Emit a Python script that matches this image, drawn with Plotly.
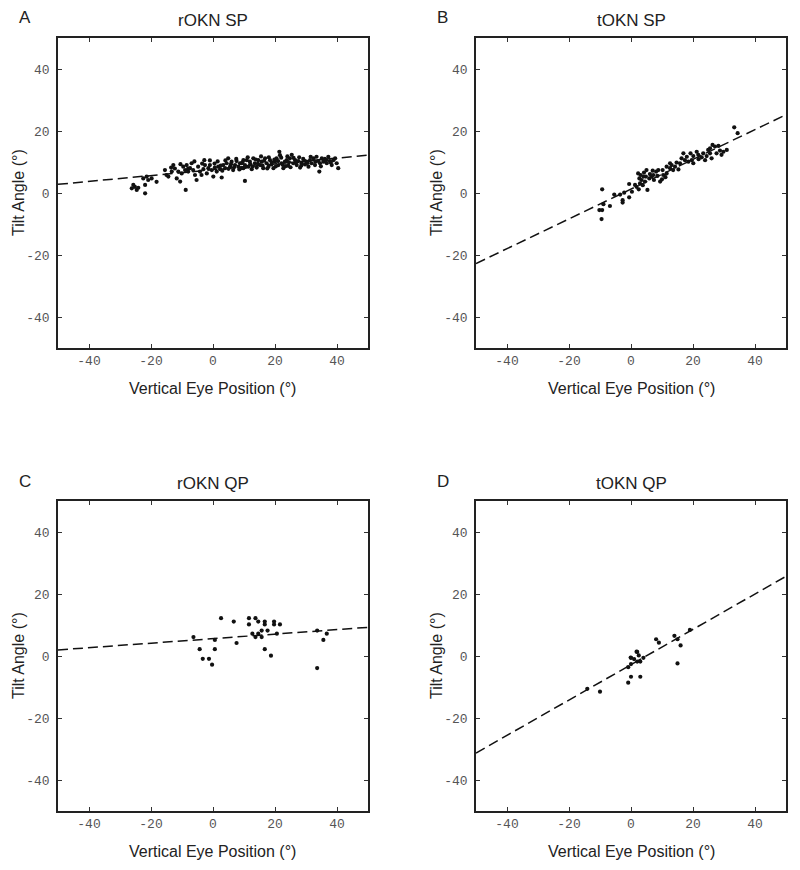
import numpy as np
import plotly.graph_objects as go

# ---------------- data ----------------
panel_letters = ["A", "B", "C", "D"]
panel_titles = ["rOKN SP", "tOKN SP", "rOKN QP", "tOKN QP"]
x_title = "Vertical Eye Position (°)"
y_title = "Tilt Angle (°)"
tick_vals = [-40, -20, 0, 20, 40]
tick_text = ["-40", "-20", "0", "20", "40"]

# regression lines: slope, intercept
fit_slope = [0.094, 0.48, 0.073, 0.57]
fit_intercept = [7.5, 1.25, 5.6, -2.8]

a_x = [-26.2, -25.2, -24.6, -24.1, -25.7, -21.9, -22.5, -21.4, -20.9, -19.8, -18.2, -21.9,
       -15.5, -15.0, -14.4, -13.3, -12.8, -12.3, -11.7, -11.2, -10.6, -10.1, -9.6, -9.0,
       -8.8, -8.5, -8.0, -7.4, -6.9, -6.4, -5.8, -5.3, -4.8, -4.2, -3.7, -3.1, -2.8, -2.6,
       -2.0, -1.5, -1.0, -0.4, 0.1, 0.6, 1.2, 1.7, 2.3, 2.8, 3.3, 3.9, 4.4, 4.9, 5.5, 6.0,
       6.5, 7.1, 7.6, 8.2, 8.7, 9.2, 9.8,
       9.25, 9.8, 10.3, 10.9, 11.4, 11.9, 12.5, 13.0, 13.5, 14.1, 14.6, 15.2, 15.7, 16.2,
       16.8, 17.3, 17.9, 18.4, 18.9, 19.5, 20.0, 20.5, 21.1, 21.4, 21.6, 22.1, 22.7, 23.2,
       23.8, 24.3, 24.8, 25.4, 25.9, 26.5, 27.0, 27.5, 28.1, 28.6, 29.1, 29.7, 30.2, 30.8,
       31.3, 31.8, 32.4, 32.9, 33.4, 34.0, 34.5, 34.3, 35.1, 35.6, 36.1, 36.7, 37.2, 37.7,
       38.3, 38.8, 39.4, 39.9, 40.4, 10.3,
       0.5, 1.5, 2.5, 3.0, 4.0, 5.0, 5.8, 6.8, 7.5, 8.5, 9.5, 10.5, 11.2, 12.0, 12.8, 13.8,
       14.5, 15.5, 16.0, 16.5, 17.5, 18.0, 19.0, 19.8, 20.3, 21.0, 22.0, 22.5, 23.5, 24.0,
       24.5, 25.0, 26.0, 26.8, 27.8, 28.5, 29.5, 30.5, 31.5, 33.0, 34.8, 36.5, 38.0,
       -6.0, -3.5, -1.0, -10.5, -13.5, -8.0]
a_y = [1.5, 2.0, 1.0, 1.7, 2.6, -0.1, 4.7, 5.3, 4.2, 4.7, 3.6, 2.6,
       7.4, 5.8, 5.3, 6.9, 9.0, 7.9, 4.7, 6.9, 3.7, 6.3, 8.5, 7.4,
       1.0, 9.0, 6.9, 8.0, 9.6, 7.4, 5.8, 4.2, 8.5, 6.9, 5.8, 7.7, 10.6, 9.0,
       6.3, 8.0, 9.0, 7.4, 5.3, 8.2, 6.9, 8.5, 7.7, 5.0, 9.0, 8.0, 9.6, 11.2, 8.5, 10.1,
       7.4, 9.0, 10.3, 8.5, 9.6, 8.0, 10.6,
       9.6, 8.0, 9.0, 10.6, 8.5, 10.1, 7.7, 11.2, 9.6, 8.2, 10.6, 9.0, 10.1, 8.0,
       11.2, 9.6, 8.5, 10.6, 9.2, 8.0, 10.1, 11.2, 9.0, 13.3, 12.2, 9.6, 8.0, 10.1,
       10.6, 8.8, 11.2, 12.3, 9.6, 10.6, 9.0, 10.3, 8.2, 9.6, 11.0, 9.2, 10.1, 8.5,
       10.6, 9.6, 11.2, 9.0, 11.7, 10.3, 9.6, 6.9, 11.2, 10.1, 11.0, 9.6, 11.7, 10.3,
       9.0, 10.6, 11.2, 9.6, 8.0, 3.9,
       9.5, 10.2, 8.8, 7.2, 10.5, 7.8, 9.3, 8.3, 11.0, 7.6, 9.8, 8.4, 11.5, 9.3, 8.6, 10.8,
       9.4, 11.8, 8.8, 10.4, 7.9, 11.5, 9.9, 10.8, 8.6, 10.3, 11.4, 9.1, 8.7, 11.8,
       9.9, 8.3, 11.3, 9.8, 11.5, 8.9, 10.4, 9.7, 11.7, 10.1, 8.6, 10.6, 9.8,
       10.2, 9.5, 10.5, 9.3, 8.2, 7.9]

b_x = [33.3, 34.4, -9.3, -9.5, -10.2, -9.3, -6.8, -8.9, -5.4, -3.5, -2.7, -2.7, -0.6, -0.6,
       0.3, -2.2, 2.5, 5.3,
       2.3, 3.1, 4.2, 4.8, 6.1, 7.0, 8.1, 8.5, 7.4, 9.4, 10.0, 11.1, 11.5, 10.2, 12.6, 13.1,
       14.2, 14.7, 15.8, 15.3, 17.4, 18.5, 18.0, 19.2, 20.1, 21.2, 21.7, 22.8, 23.3, 24.4,
       24.9, 25.5, 26.3, 27.1, 28.2, 28.7, 29.8, 27.6, 26.0, 23.9, 20.1, 21.8,
       2.9, 3.4, 4.5, 5.9, 1.8, 3.8,
       25.5, 19.6, 16.3, 13.6, 11.5, 8.8, 6.7, 4.0, 2.7, 1.3, 5.0, 7.2, 10.4, 12.6, 16.9,
       29.2, 30.9]
b_y = [21.2, 19.3, 1.2, -8.4, -5.5, -5.5, -4.2, -3.6, -0.5, -0.5, -2.3, -3.1, 2.9, -1.4,
       0.4, 0.1, 1.2, 1.0,
       6.3, 5.8, 6.6, 5.3, 6.1, 7.2, 6.9, 5.5, 4.2, 3.7, 4.4, 5.1, 6.3, 7.4, 8.0, 9.0,
       8.5, 9.8, 9.6, 7.6, 10.6, 10.1, 11.7, 12.8, 11.9, 13.3, 12.3, 11.5, 12.8, 11.9,
       13.9, 14.4, 15.5, 15.0, 15.2, 13.7, 13.3, 12.8, 11.2, 10.6, 9.6, 10.9,
       3.1, 4.2, 3.7, 4.7, 2.0, 2.5,
       12.8, 10.6, 11.2, 7.4, 8.5, 7.4, 5.3, 5.3, 4.7, 2.6, 7.4, 5.8, 5.8, 9.6, 12.8,
       12.3, 13.9]

c_x = [2.6, 6.7, 11.6, 13.7, 11.6, 14.6, 16.7, 16.7, 19.7, 19.7, 21.6, -6.3, 0.6, 7.6,
       12.7, 15.7, 15.7, 17.6, 20.6, 14.6, 13.7, -4.3, 0.6, -3.3, -1.3, -0.3, 16.7, 18.7,
       33.6, 36.7, 35.6, 33.6]
c_y = [12.2, 11.1, 12.2, 12.2, 10.2, 11.1, 11.1, 10.2, 11.1, 10.2, 10.2, 6.1, 5.2, 4.2,
       7.2, 8.2, 6.1, 8.2, 7.2, 7.2, 6.1, 2.2, 2.2, -0.9, -0.9, -2.8, 2.2, 0.1,
       8.2, 7.2, 5.2, -3.9]

d_x = [-14.1, -10.0, -0.9, 0.0, 3.0, -0.9, 0.0, 0.0, 2.0, 2.0, 3.0, 4.0, 8.1, 9.0, 14.0,
       16.0, 15.0, 19.0, 15.0, 1.8, -0.1, 1.0, 2.5]
d_y = [-10.6, -11.5, -8.6, -6.7, -6.7, -3.6, -2.6, -0.6, 1.3, -1.8, -1.8, -0.6, 5.4, 4.3,
       6.5, 3.4, -2.4, 8.4, 5.4, 1.4, -0.5, -1.0, 0.2]

xs = [a_x, b_x, c_x, d_x]
ys = [a_y, b_y, c_y, d_y]

# ---------------- layout geometry (pixels) ----------------
W, H = 800, 870
OFF = 8  # page body margin
lefts = [58 - OFF, 476 - OFF, 58 - OFF, 476 - OFF]
tops = [38 - OFF, 38 - OFF, 501 - OFF, 501 - OFF]
size = 310

fig = go.Figure()
line_x = np.array([-50.0, 50.0])

annotations = []
for i in range(4):
    n = "" if i == 0 else str(i + 1)
    xa = "x" + n
    ya = "y" + n
    fig.add_trace(go.Scatter(
        x=line_x, y=fit_slope[i] * line_x + fit_intercept[i],
        mode="lines", line=dict(color="#111", width=1.5, dash="10px,5px"),
        xaxis=xa, yaxis=ya, showlegend=False, hoverinfo="skip"))
    fig.add_trace(go.Scatter(
        x=xs[i], y=ys[i], mode="markers",
        marker=dict(color="#111", size=4.2, line=dict(width=0)),
        xaxis=xa, yaxis=ya, showlegend=False))

    l, t = lefts[i], tops[i]
    xdom = [l / W, (l + size) / W]
    ydom = [1 - (t + size) / H, 1 - t / H]
    axis_common = dict(
        range=[-50, 50], tickvals=tick_vals, ticktext=tick_text,
        ticks="inside", ticklen=4, tickwidth=1, tickcolor="#333",
        showline=True, linecolor="#222", linewidth=1.5, mirror="ticks",
        showgrid=False, zeroline=False, fixedrange=True,
        tickfont=dict(family="Liberation Mono", size=13, color="#555"),
    )
    fig.layout["xaxis" + n] = dict(axis_common, domain=xdom, anchor=ya)
    fig.layout["yaxis" + n] = dict(axis_common, domain=ydom, anchor=xa,
                                   ticklabelstandoff=4)

    cx = l + size / 2
    cy = t + size / 2
    # panel title
    annotations.append(dict(text=panel_titles[i], x=cx / W, y=1 - (t - 18) / H,
                            xref="paper", yref="paper", showarrow=False,
                            font=dict(family="Liberation Sans", size=17, color="#222"),
                            xanchor="center", yanchor="middle"))
    # panel letter
    annotations.append(dict(text=panel_letters[i], x=(l - 33) / W, y=1 - (t - 20) / H,
                            xref="paper", yref="paper", showarrow=False,
                            font=dict(family="Liberation Sans", size=17, color="#222"),
                            xanchor="center", yanchor="middle"))
    # x title
    annotations.append(dict(text=x_title, x=cx / W, y=1 - (t + size + 40) / H,
                            xref="paper", yref="paper", showarrow=False,
                            font=dict(family="Liberation Sans", size=16, color="#222"),
                            xanchor="center", yanchor="middle"))
    # y title
    annotations.append(dict(text=y_title, x=(l - 40) / W, y=1 - cy / H,
                            xref="paper", yref="paper", showarrow=False, textangle=-90,
                            font=dict(family="Liberation Sans", size=16, color="#222"),
                            xanchor="center", yanchor="middle"))

fig.update_layout(
    width=W, height=H, margin=dict(l=0, r=0, t=0, b=0),
    paper_bgcolor="white", plot_bgcolor="white",
    annotations=annotations, showlegend=False,
)

fig.write_html("out.html")
